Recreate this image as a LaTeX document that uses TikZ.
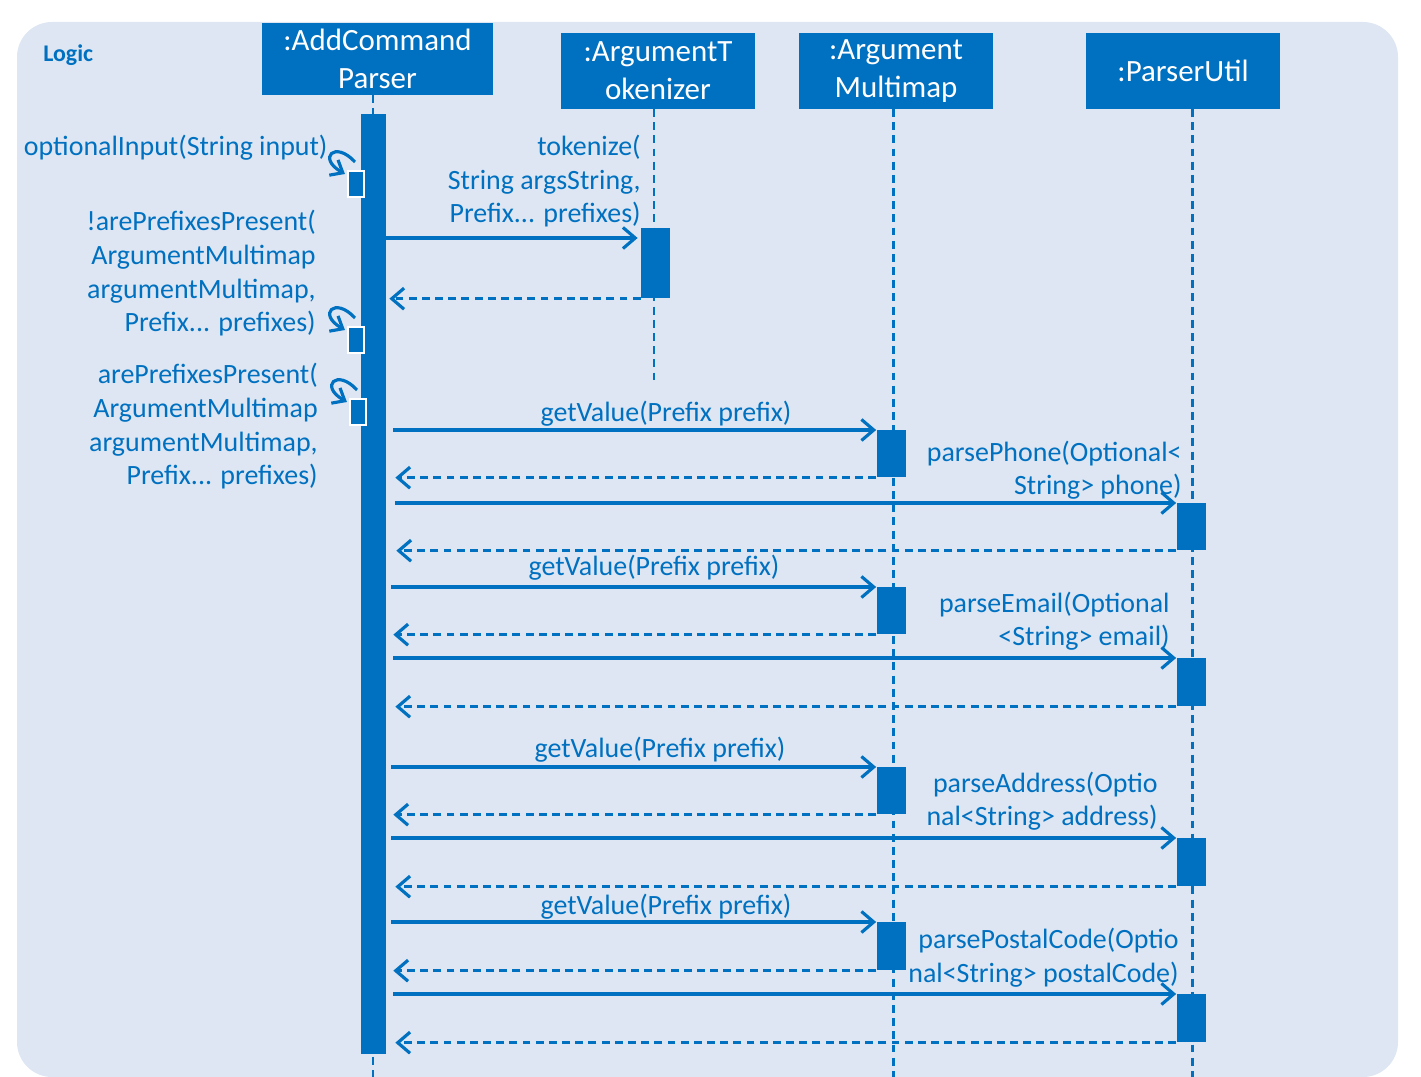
\documentclass[tikz,border=0pt]{standalone}
\usepackage{fontspec}
\setmainfont{Carlito}
\usetikzlibrary{calc,arrows.meta}
\definecolor{umlblue}{RGB}{0,112,192}
\definecolor{logicbg}{RGB}{221,230,242}
\tikzset{
  head/.style={fill=umlblue, text=white, align=center, inner sep=0pt, font=\fontsize{17.6}{21.5}\selectfont},
  bar/.style={fill=umlblue, inner sep=0pt, minimum width=0.58cm, anchor=north},
  selfbox/.style={fill=umlblue, draw=white, line width=1.2pt, inner sep=0pt, minimum width=0.32cm, minimum height=0.52cm, anchor=north},
  life/.style={umlblue, line width=1.7pt, dash pattern=on 4.5pt off 3pt},
  call/.style={umlblue, line width=1.8pt, -{Straight Barb[length=7pt,width=12pt]}},
  reply/.style={call, dash pattern=on 4.5pt off 3pt},
  selfcall/.style={umlblue, line width=1.8pt, -{Straight Barb[length=6pt,width=10pt]}},
  lbl/.style={text=umlblue, inner sep=0pt, align=right, font=\fontsize{15.9}{19.3}\selectfont},
}
\begin{document}
\begin{tikzpicture}[x=0.02cm, y=-0.02cm]
	%%%%% START %%%%%
	\useasboundingbox (0,0) rectangle (1421,1077);
	\fill[logicbg, rounded corners=0.7cm] (17,22) rectangle (1398,1077);
	\node[anchor=base west, text=umlblue, inner sep=0pt, font=\fontsize{13.6}{16}\selectfont\bfseries] (logic) at (43,62) {Logic};
	
	% heads
	\node[head, minimum width=4.62cm, minimum height=1.44cm] (acp) at (377.5,59) {:AddCommand\\Parser};
	\node[head, minimum width=3.88cm, minimum height=1.52cm] (tok) at (658,71) {:ArgumentT\\okenizer};
	\node[head, minimum width=3.88cm, minimum height=1.52cm] (amm) at (896,71) {:Argument\\Multimap};
	\node[head, minimum width=3.88cm, minimum height=1.52cm] (pu) at (1183,71) {:ParserUtil};
	
	% lifelines
	\coordinate (acptop) at (373,95);
	\coordinate (toktop) at (654,109);
	\coordinate (tokend) at (654,380);
	\coordinate (ammtop) at (893,109);
	\coordinate (putop) at (1192,109);
	\coordinate (bottom) at (0,1077);
	\draw[life] (acptop) -- (acptop |- bottom);
	\draw[life] (toktop) -- (tokend);
	\draw[life] (ammtop) -- (ammtop |- bottom);
	\draw[life] (putop) -- (putop |- bottom);
	
	% activations
	\node[bar, minimum width=0.5cm, minimum height=18.8cm] (main) at (373.5,114) {};
	\node[bar, minimum height=1.4cm] (tokact) at (655.5,228) {};
	\node[bar, minimum height=0.94cm] (gv1) at (891,430) {};
	\node[bar, minimum height=0.94cm] (ph) at (1191,503) {};
	\node[bar, minimum height=0.94cm] (gv2) at (891,587) {};
	\node[bar, minimum height=0.96cm] (em) at (1191,658) {};
	\node[bar, minimum height=0.94cm] (gv3) at (891,767) {};
	\node[bar, minimum height=0.96cm] (ad) at (1191,838) {};
	\node[bar, minimum height=0.96cm] (gv4) at (891,922) {};
	\node[bar, minimum height=0.96cm] (pc) at (1191,994) {};
	
	% self calls
	\node[selfbox] (opt) at (356,170) {};
	\node[selfbox] (npp) at (356,326) {};
	\node[selfbox] (pp) at (358,398) {};
	\draw[selfcall] ($(opt.north)+(-1,-8)$) .. controls +(-20,-22) and +(-28,-16) .. ($(opt.north west)+(-2,4)$);
	\draw[selfcall] ($(npp.north)+(-1,-8)$) .. controls +(-20,-22) and +(-28,-16) .. ($(npp.north west)+(-2,4)$);
	\draw[selfcall] ($(pp.north)+(-1,-8)$) .. controls +(-20,-22) and +(-28,-16) .. ($(pp.north west)+(-2,4)$);
	\node[lbl, anchor=base east] (optlbl) at (328,156) {optionalInput(String input)};
	\node[lbl, anchor=base east] (npplbl) at (316,332) {!arePrefixesPresent(\\ArgumentMultimap\\argumentMultimap,\\Prefix... prefixes)};
	\node[lbl, anchor=base east] (pplbl) at (318,485) {arePrefixesPresent(\\ArgumentMultimap\\argumentMultimap,\\Prefix... prefixes)};
	
	% tokenize
	\draw[call, shorten >=0.06cm] (main.east |- 0,238) -- ($(tokact.north west)+(0,10)$);
	\draw[reply, shorten >=0.06cm] (tokact.south west) -- (main.east |- tokact.south);
	\node[lbl, anchor=base east] (toklbl) at (641,223) {tokenize(\\String argsString,\\Prefix... prefixes)};
	
	% phone
	\draw[call, shorten <=0.14cm] (main.east |- gv1.north) -- (gv1.north west);
	\draw[reply, shorten >=0.18cm] (gv1.south west) -- (main.east |- gv1.south);
	\node[lbl, anchor=base] (gv1lbl) at (666,422) {getValue(Prefix prefix)};
	\draw[call, shorten <=0.18cm] (main.east |- ph.north) -- (ph.north west);
	\draw[reply, shorten >=0.2cm] (ph.south west) -- (main.east |- ph.south);
	\node[lbl, anchor=base east] (phlbl) at (1182,495) {parsePhone(Optional<\\String> phone)};
	
	% email
	\draw[call, shorten <=0.1cm] (main.east |- gv2.north) -- (gv2.north west);
	\draw[reply, shorten >=0.14cm] (gv2.south west) -- (main.east |- gv2.south);
	\node[lbl, anchor=base] (gv2lbl) at (654,576) {getValue(Prefix prefix)};
	\draw[call, shorten <=0.14cm] (main.east |- em.north) -- (em.north west);
	\draw[reply, shorten >=0.18cm] (em.south west) -- (main.east |- em.south);
	\node[lbl, anchor=base east] (emlbl) at (1170,646) {parseEmail(Optional\\<String> email)};
	
	% address
	\draw[call, shorten <=0.1cm] (main.east |- gv3.north) -- (gv3.north west);
	\draw[reply, shorten >=0.14cm] (gv3.south west) -- (main.east |- gv3.south);
	\node[lbl, anchor=base] (gv3lbl) at (660,758) {getValue(Prefix prefix)};
	\draw[call, shorten <=0.1cm] (main.east |- ad.north) -- (ad.north west);
	\draw[reply, shorten >=0.18cm] (ad.south west) -- (main.east |- ad.south);
	\node[lbl, anchor=base east] (adlbl) at (1158,826) {parseAddress(Optio\\nal<String> address)};
	
	% postal code
	\draw[call, shorten <=0.1cm] (main.east |- gv4.north) -- (gv4.north west);
	\draw[reply, shorten >=0.14cm] (gv4.south west) -- (main.east |- gv4.south);
	\node[lbl, anchor=base] (gv4lbl) at (666,914) {getValue(Prefix prefix)};
	\draw[call, shorten <=0.14cm] (main.east |- pc.north) -- (pc.north west);
	\draw[reply, shorten >=0.18cm] (pc.south west) -- (main.east |- pc.south);
	\node[lbl, anchor=base east] (pclbl) at (1179,982) {parsePostalCode(Optio\\nal<String> postalCode)};
	%%%%% END %%%%%
\end{tikzpicture}
\end{document}
